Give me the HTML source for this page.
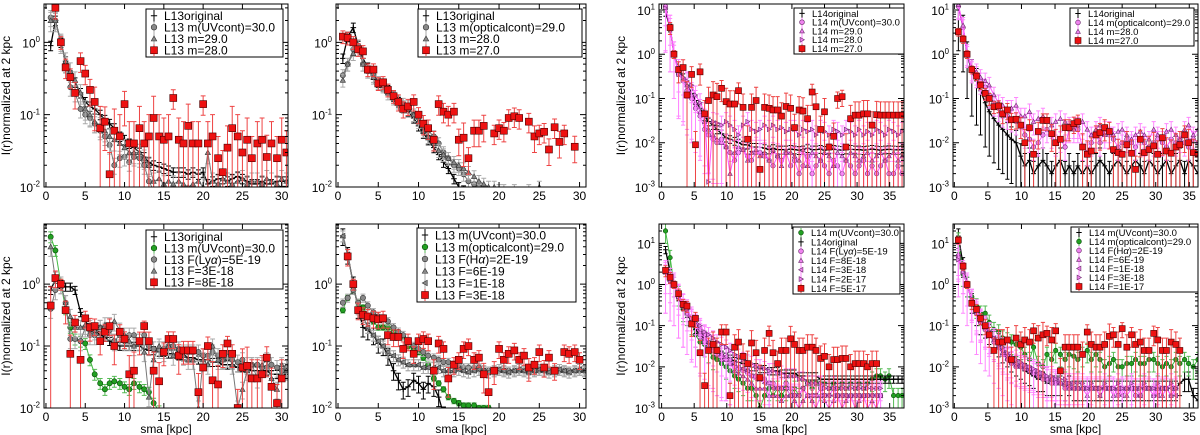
<!DOCTYPE html>
<html><head><meta charset="utf-8"><style>
html,body{margin:0;padding:0;background:#fff;}
svg{display:block;font-family:"Liberation Sans","DejaVu Sans",sans-serif;}
</style></head><body>
<svg id="fig" width="1200" height="435" viewBox="0 0 1200 435" xmlns="http://www.w3.org/2000/svg"></svg>
<script>
// ---- shared radial grids (kpc) ----
const gL = [0.6,1.2,1.9,2.5,3.1,3.7,4.4,5.0,5.6,6.2,6.9,7.5,8.1,8.7,9.4,10.0,10.6,11.2,11.9,12.5,13.1,13.7,14.4,15.0,15.6,16.2,16.9,17.5,18.1,18.7,19.4,20.0,20.6,21.2,21.9,22.5,23.1,23.7,24.4,25.0,25.6,26.2,26.9,27.5,28.1,28.7,29.4,30.0,30.6];
const gR = [0.6,1.3,1.9,2.6,3.3,3.9,4.6,5.2,5.9,6.6,7.2,7.9,8.5,9.2,9.9,10.5,11.2,11.8,12.5,13.2,13.8,14.5,15.1,15.8,16.5,17.1,17.8,18.4,19.1,19.8,20.4,21.1,21.7,22.4,23.1,23.7,24.4,25.0,25.7,26.4,27.0,27.7,28.3,29.0,29.7,30.3,31.0,31.6,32.3,33.0,33.6,34.3,34.9,35.6,36.3,36.9];
const xTicksL = [0,5,10,15,20,25,30];
const xTicksR = [0,5,10,15,20,25,30,35];
const yDecL = [-2,-1,0];
const yDecR = [-3,-2,-1,0,1];

// ---- panel 1 (L13, UV) ----
const p1Orig = [0.9,2.0,1.0,0.55,0.35,0.28,0.2,0.15,0.13,0.12,0.1,0.085,0.075,0.065,0.05,0.045,0.04,0.035,0.03,0.026,0.022,0.02,0.019,0.018,0.017,0.016,0.016,0.016,0.015,0.016,0.015,0.016,0.011,0.012,0.013,0.013,0.012,0.013,0.014,0.013,0.012,0.011,0.011,0.012,0.011,0.011,0.012,0.012,0.012];
const p1Circ = [2.2,2.0,1.0,0.5,0.24,0.2,0.12,0.1,0.09,0.075,0.06,0.05,0.038,0.02,0.025,0.026,0.022,0.026,0.025,0.02,0.012,0.009,0.008,0.009,0.008,0.008,null];
const p1Tri = [2.0,2.0,1.0,0.55,0.4,0.3,0.2,0.12,0.1,0.08,0.07,0.06,0.05,0.045,0.04,0.035,0.03,0.03,0.03,0.025,0.02,0.012,0.013,0.011,0.012,0.011,0.012,0.011,0.010,0.011,0.012,0.01,0.03,0.012,0.011,0.013,0.012,0.011,0.012,0.013,0.011,0.012,0.012,0.011,0.013,0.012,0.011,0.013,0.012];
const p1Red = [null,3.0,1.0,0.45,0.33,0.2,0.55,0.37,0.22,0.15,0.065,0.08,0.015,0.06,0.05,0.14,0.04,0.04,0.065,0.04,0.05,0.09,0.05,0.045,0.05,0.17,0.045,0.04,0.07,0.04,0.04,0.14,0.04,0.05,0.025,0.016,0.035,0.065,0.05,0.03,0.045,0.025,0.04,0.045,0.026,0.04,0.025,0.045,0.03];
const p1RedErr = [0,0.3,0.2,0.3,0.3,0.4,0.3,0.3,0.4,0.6,1,0.6,1,1,1,0.5,1,1,1,1,1,1,1,1,1,0.3,1,1,1,1,1,0.3,1,1,1,1,1,1,1,1,1,1,1,1,1,1,1,1,1];

// ---- panel 2 (L13, optical) ----
const p2Orig = [0.6,1.2,1.6,0.9,0.6,0.45,0.36,0.28,0.25,0.22,0.18,0.15,0.13,0.11,0.09,0.07,0.055,0.045,0.035,0.028,0.022,0.018,0.013,0.010,0.009,null];
const p2Circ = [0.35,0.5,0.8,0.9,0.5,0.4,0.35,0.28,0.26,0.22,0.18,0.15,0.14,0.13,0.1,0.09,0.07,0.06,0.05,0.04,0.03,0.025,0.02,0.018,0.015,0.012,0.011,0.01,0.009,null];
const p2Tri = [0.3,0.5,0.7,0.8,0.5,0.4,0.33,0.28,0.25,0.2,0.17,0.15,0.13,0.12,0.1,0.08,0.06,0.05,0.04,0.032,0.028,0.025,0.022,0.02,0.018,0.016,0.014,0.012,0.011,0.01,0.01,0.009,0.009,0.008,0.009,0.008,0.008,0.009,0.008,0.01,0.008];
const p2Red = [1.2,1.15,1.0,0.8,0.75,0.42,0.42,0.27,0.28,0.22,0.18,0.15,0.12,0.13,0.15,0.1,0.075,0.065,0.045,0.14,0.11,0.1,0.11,0.045,0.048,0.025,0.06,0.06,0.07,null,0.055,0.065,0.06,0.09,0.095,0.09,null,0.08,0.05,0.055,0.058,0.033,0.067,0.042,0.055,null,0.036,null,null];
const p2RedErr = [0.2,0.2,0.2,0.2,0.2,0.2,0.2,0.2,0.2,0.2,0.2,0.25,0.25,0.25,0.25,0.25,0.3,0.3,0.3,0.3,0.3,0.3,0.3,0.4,0.6,0.4,0.4,0.4,0.4,0,0.3,0.3,0.3,0.3,0.3,0.3,0,0.3,0.4,0.3,0.3,0.4,0.3,0.4,0.3,0,0.4,0,0];

// ---- panel 3 (L14, UV) ----
const p3Orig = [9,4,1.0,0.45,0.3,0.2,0.13,0.09,0.06,0.04,0.03,0.025,0.02,0.016,0.013,0.012,0.011,0.01,0.009,0.009,0.008,0.008,0.008,0.0075,0.007,0.0075,0.007,0.007,0.007,0.0072,0.007,0.0068,0.007,0.0075,0.007,0.007,0.0072,0.0068,0.007,0.0072,0.007,0.0068,0.007,0.0072,0.007,0.007,0.0068,0.007,0.0072,0.007,0.0068,0.007,0.0071,0.007,0.0069,0.007];
const p3Circ = [12,4,1.0,0.35,0.25,0.15,0.1,0.06,0.04,0.02,0.015,0.012,0.01,0.012,0.008,0.006,0.004,0.006,0.007,0.005,0.004,0.006,0.006,0.005,0.004,0.003,0.005,0.004,0.006,0.003,0.004,0.002,0.003,0.005,0.002,0.003,0.004,0.003,0.002,0.004,0.003,0.002,0.004,0.003,0.002,0.003,0.004,0.002,0.003,0.002,0.003,0.004,0.002,0.002,0.003,0.002];
const p3TriUp = [11,4,1.0,0.4,0.3,0.2,0.12,0.08,0.05,0.03,0.02,0.015,0.012,0.01,0.008,0.002,0.006,0.008,0.007,0.004,0.006,0.007,0.005,0.006,0.004,0.007,0.005,0.003,0.006,0.006,0.005,0.004,0.007,0.003,0.006,0.005,0.004,0.006,0.005,0.003,0.006,0.005,0.004,0.006,0.005,0.004,0.005,0.006,0.004,0.005,0.006,0.004,0.005,0.006,0.004,0.005];
const p3TriR = [11,4,1.0,0.35,0.3,0.25,0.2,0.12,0.08,0.05,0.0013,0.03,0.028,0.025,0.03,0.025,0.02,0.015,0.025,0.03,0.02,0.018,0.02,0.025,0.02,0.025,0.02,0.022,0.018,0.02,0.02,0.015,0.02,0.018,0.02,0.015,0.02,0.018,0.015,0.02,0.018,0.015,0.02,0.018,0.015,0.02,0.015,0.018,0.015,0.02,0.018,0.015,0.02,0.018,0.015,0.018];
const p3Red = [null,4,1.0,0.45,0.5,0.12,0.35,0.009,0.4,0.045,0.09,0.12,0.11,0.17,0.085,0.075,0.075,0.15,0.063,0.012,0.063,0.09,0.0025,0.063,0.06,0.055,0.055,0.04,0.066,0.06,0.022,0.055,0.052,0.035,0.14,0.065,0.02,0.05,0.008,0.014,0.1,0.11,0.008,0.035,0.042,0.042,0.045,0.045,0.025,0.043,0.042,0.042,0.042,0.042,0.042,0.042];
const p3RedErr = [0,0.3,0.2,0.5,0.5,1,0.5,1,0.5,1,1,1,1,0.5,1,1,1,0.5,1,1,1,1,1,1,1,1,1,1,1,1,1,1,1,1,0.5,1,1,1,1,1,0.4,0.4,1,1,1,1,1,1,1,1,1,1,1,1,1,1];

// ---- panel 4 (L14, optical) ----
const p4Orig = [12,4,1.0,0.4,0.25,0.15,0.08,0.05,0.035,0.025,0.02,0.015,0.012,0.01,0.005,0.003,0.004,0.002,0.003,0.004,0.003,0.002,0.003,0.004,0.002,0.003,0.002,0.003,0.002,0.003,0.002,0.003,0.004,0.003,0.002,0.003,0.004,0.003,0.002,0.003,0.004,0.003,0.002,0.004,0.003,0.002,0.003,0.004,0.002,0.003,0.004,0.002,0.004,0.003,0.002,0.003];
const p4Circ = [12,4,1.0,0.45,0.35,0.25,0.18,0.12,0.08,0.06,0.045,0.04,0.035,0.03,0.025,0.015,0.012,0.008,0.01,0.015,0.02,0.015,0.01,0.012,0.008,0.02,0.025,0.02,0.008,0.006,0.01,0.015,0.01,0.02,0.015,0.012,0.008,0.01,0.012,0.01,0.008,0.012,0.01,0.008,0.01,0.012,0.01,0.008,0.012,0.01,0.012,0.01,0.008,0.012,0.01,0.008];
const p4TriUp = [13,4.5,1.1,0.5,0.4,0.3,0.25,0.2,0.12,0.08,0.07,0.06,0.06,0.07,0.04,0.04,0.05,0.03,0.035,0.04,0.03,0.025,0.03,0.035,0.03,0.025,0.02,0.025,0.03,0.02,0.015,0.02,0.025,0.015,0.02,0.015,0.018,0.02,0.015,0.012,0.015,0.018,0.015,0.012,0.02,0.015,0.012,0.018,0.02,0.015,0.012,0.02,0.025,0.015,0.02,0.015];
const p4Red = [3.2,2.2,1.0,0.45,0.32,0.2,0.13,0.1,0.065,0.068,0.045,0.055,0.033,0.034,0.025,0.01,0.022,0.0055,0.018,0.032,0.032,0.016,0.01,0.012,0.022,0.022,0.027,0.03,0.008,0.0055,0.0065,0.015,0.017,0.022,0.018,0.007,0.006,0.0055,0.009,0.0058,0.0025,0.012,0.006,0.007,0.0085,0.0055,0.013,0.0065,0.0058,0.008,0.009,0.015,0.01,0.006,0.0055,null];
const p4RedErr = [0.2,0.2,0.2,0.2,0.2,0.2,0.3,0.3,0.3,0.3,0.4,0.4,0.4,0.4,0.5,1,0.5,1,0.6,0.4,0.4,0.6,1,1,0.5,0.5,0.4,0.4,1,1,1,0.6,0.6,0.5,0.6,1,1,1,1,1,1,0.6,1,1,1,1,0.6,1,1,1,1,0.6,1,1,1,0];

// ---- panel 5 (L13, Lya) ----
const p5Orig = [0.8,1.2,1.0,0.9,0.9,0.8,0.35,0.25,0.2,0.18,0.15,0.14,0.12,0.11,0.1,0.1,0.1,0.1,0.1,0.09,0.085,0.085,0.08,0.08,0.075,0.075,0.07,0.07,0.065,0.065,0.06,0.06,0.06,0.055,0.055,0.05,0.05,0.05,0.045,0.045,0.045,0.04,0.04,0.04,0.04,0.035,0.035,0.035,0.035];
const p5Green = [5.8,3.5,1.0,0.4,0.2,0.13,0.12,0.11,0.06,0.035,0.025,0.02,0.025,0.027,0.025,0.022,0.02,0.025,0.022,0.02,0.018,0.012,0.009,null];
const p5Circ = [0.4,0.8,1.0,0.5,0.13,0.13,0.12,0.2,0.15,0.15,0.2,0.18,0.18,0.12,0.15,0.12,0.15,0.15,0.12,0.15,0.1,0.09,0.09,0.09,0.1,0.1,0.09,0.08,0.08,0.08,0.08,0.07,0.07,0.08,0.07,0.06,0.065,0.06,0.055,0.06,0.05,0.05,0.05,0.045,0.045,0.05,0.045,0.04,0.045];
const p5Tri = [4,1.2,1.0,0.5,0.3,0.2,0.2,0.22,0.2,0.18,0.2,0.22,0.22,0.25,0.18,0.15,0.12,0.1,0.12,0.08,0.015,0.06,0.1,0.08,0.1,0.07,0.09,0.07,0.06,0.06,0.01,0.06,0.05,0.1,0.06,0.06,0.08,0.05,0.01,0.02,0.04,0.05,0.03,0.05,0.06,0.03,0.02,0.05,0.04];
const p5Red = [0.45,1.25,1.0,0.38,0.075,0.24,0.06,0.28,0.2,0.21,0.12,0.17,0.21,0.1,0.17,0.13,0.035,0.04,0.12,0.21,0.12,0.04,0.027,0.08,0.13,0.13,0.07,0.085,0.085,0.085,0.018,0.045,0.1,0.028,0.024,0.075,0.11,0.075,0.01,0.045,0.048,0.03,0.03,0.035,0.065,0.022,0.012,0.03,null];
const p5RedErr = [1,0.3,0.2,0.4,1,0.3,1,0.3,0.4,0.3,0.4,0.3,0.3,0.5,0.3,0.3,1,1,0.4,0.2,0.4,1,1,0.4,0.3,0.3,0.5,0.4,0.4,0.4,1,1,0.4,1,1,0.4,0.3,0.4,1,1,1,1,1,1,0.5,1,1,1,0];

// ---- panel 6 (L13, Halpha) ----
const p6UV = [6,3,1.0,0.4,0.2,0.18,0.15,0.11,0.1,0.07,0.04,0.028,0.02,0.022,0.028,0.025,0.02,0.025,0.022,0.015,0.008,null];
const p6Green = [0.38,0.6,0.8,0.5,0.42,0.3,0.25,0.2,0.2,0.2,0.17,0.15,0.14,0.1,0.09,0.08,0.065,0.05,0.03,0.025,0.02,0.015,0.013,0.012,0.011,0.011,0.011,0.01,0.01,0.01,0.009,null];
const p6Circ = [0.5,0.6,0.8,0.5,0.6,0.45,0.35,0.3,0.28,0.25,0.2,0.17,0.15,0.12,0.1,0.09,0.08,0.07,0.065,0.06,0.055,0.055,0.05,0.05,0.045,0.045,0.045,0.045,0.04,0.04,0.04,0.04,0.04,0.04,0.04,0.04,0.04,0.04,0.04,0.04,0.04,0.04,0.04,0.04,0.04,0.04,0.04,0.04,0.04];
const p6TriL = [6,3,1.0,0.4,0.3,0.2,0.15,0.12,0.1,0.08,0.07,0.06,0.055,0.05,0.05,0.05,0.045,0.045,0.045,0.045,0.04,0.04,0.04,0.042,0.04,0.038,0.04,0.042,0.04,0.038,0.04,0.042,0.04,0.038,0.04,0.042,0.04,0.038,0.04,0.042,0.04,0.038,0.04,0.042,0.04,0.038,0.04,0.042,0.04];
const p6Red = [null,2.8,1.0,0.38,0.32,0.3,0.28,0.27,0.28,0.15,0.14,0.14,0.09,0.12,0.075,0.12,0.13,0.12,0.04,0.11,0.09,0.03,0.05,0.06,0.09,0.1,0.06,0.065,0.035,0.018,0.04,0.09,0.06,0.075,0.085,0.06,0.07,0.045,0.05,0.08,0.045,0.065,0.04,null,0.08,0.075,0.08,0.06,null];
const p6RedErr = [0,0.3,0.2,0.3,0.3,0.3,0.3,0.3,0.3,0.3,0.3,0.3,0.3,0.3,0.3,0.3,0.3,0.3,0.5,0.3,0.3,0.5,0.3,0.3,0.3,0.3,0.3,0.3,0.5,1,0.4,0.3,0.3,0.3,0.3,0.3,0.3,0.4,0.3,0.3,0.3,0.3,0.3,0,0.3,0.3,0.3,0.3,0];

// ---- panel 7 (L14, Lya) ----
const p7Green = [20,4.5,1.0,0.6,0.25,0.2,0.12,0.06,0.04,0.035,0.025,0.017,0.015,0.012,0.01,0.008,0.006,0.005,0.004,0.003,0.003,0.002,0.001,0.002,0.003,0.002,0.003,0.002,0.003,0.002,0.003,0.002,0.003,0.004,0.003,0.004,0.003,0.004,0.003,0.004,0.003,0.004,0.003,0.004,0.003,0.004,0.003,0.004,0.005,0.006,0.006,0.005,0.006,0.002,0.002,0.002];
const p7Orig = [7,2,1.0,0.5,0.3,0.2,0.12,0.08,0.06,0.045,0.035,0.03,0.025,0.02,0.018,0.016,0.014,0.013,0.012,0.011,0.01,0.01,0.009,0.009,0.008,0.008,0.008,0.007,0.007,0.007,0.007,0.006,0.006,0.006,0.006,0.006,0.005,0.005,0.005,0.005,0.005,0.005,0.005,0.005,0.005,0.005,0.005,0.005,0.005,0.005,0.005,0.005,0.005,0.005,0.005,0.005];
const p7Circ = [2,1.3,1.0,0.5,0.3,0.2,0.13,0.1,0.06,0.04,0.03,0.025,0.02,0.018,0.015,0.012,0.01,0.009,0.008,0.007,0.006,0.006,0.005,0.005,0.004,0.004,0.003,0.003,0.004,0.003,0.002,0.002,0.003,0.002,0.002,0.002,0.003,0.002,0.002,0.003,0.002,0.002,0.002,0.002,0.002,0.002,0.002,0.002,0.002,0.002,0.002,null];
const p7TriUp = [2,1.3,1.0,0.5,0.3,0.2,0.15,0.1,0.07,0.05,0.035,0.03,0.02,0.015,0.015,0.012,0.008,0.007,0.006,0.005,0.004,0.003,0.003,0.003,0.002,0.002,0.002,0.0015,0.002,0.002,0.0015,0.001,0.0015,0.002,0.0015,0.001,0.002,0.0015,0.001,0.0015,0.002,0.001,0.0015,0.002,0.001,0.0015,0.002,0.001,0.0015,0.001,0.002,null];
const p7TriL = [2,1.2,1.0,0.6,0.35,0.25,0.15,0.1,0.08,0.06,0.04,0.035,0.025,0.02,0.018,0.015,0.012,0.01,0.009,0.008,0.006,0.005,0.005,0.004,0.004,0.003,0.003,0.003,0.003,0.002,0.002,0.002,0.003,0.002,0.002,0.002,0.002,0.002,0.002,0.002,0.002,0.002,0.002,0.002,0.002,0.002,0.002,0.002,0.002,0.002,0.002,null];
const p7TriR = [2,1.2,1.0,0.5,0.3,0.25,0.15,0.12,0.1,0.07,0.06,0.05,0.04,0.035,0.03,0.025,0.02,0.018,0.015,0.013,0.012,0.01,0.01,0.009,0.008,0.008,0.007,0.007,0.006,0.006,0.006,0.005,0.005,0.004,0.004,0.004,0.004,0.003,0.003,0.003,0.003,0.003,0.003,0.003,0.003,0.003,0.003,0.003,0.003,0.003,0.003,null];
const p7Red = [2.2,1.5,1.0,0.6,0.33,0.3,0.11,0.15,0.022,0.0035,0.025,0.035,0.025,0.07,0.07,0.002,0.03,0.04,0.018,0.012,0.038,0.022,0.0055,0.025,0.065,0.022,0.012,0.025,0.025,0.048,0.035,0.025,0.025,0.03,0.03,0.025,0.016,0.018,0.01,0.015,0.015,0.016,0.016,0.01,0.012,0.012,0.012,0.01,0.012,0.012,null];
const p7RedErr = [0.3,0.3,0.2,0.3,0.3,0.3,0.5,0.4,1,1,1,1,1,0.5,0.5,1,1,1,1,1,1,1,1,1,0.5,1,1,1,1,1,1,1,1,1,1,1,1,1,1,1,1,1,1,1,1,1,1,1,1,1,0];

// ---- panel 8 (L14, Halpha) ----
const p8UV = [15,3,1.0,0.4,0.2,0.12,0.1,0.07,0.05,0.035,0.025,0.02,0.015,0.012,0.01,0.008,0.007,0.006,0.005,0.005,0.004,0.004,0.004,0.004,0.003,0.004,0.003,0.003,0.003,0.003,0.003,0.003,0.003,0.003,0.003,0.003,0.003,0.003,0.003,0.003,0.003,0.003,0.003,0.003,0.003,0.003,0.003,0.003,0.003,0.003,0.004,0.005,0.005,0.002,0.0015,0.003];
const p8Green = [12,1.8,1.0,0.5,0.3,0.2,0.2,0.12,0.08,0.07,0.05,0.045,0.04,0.035,0.03,0.02,0.015,0.03,0.012,0.01,0.02,0.015,0.025,0.02,0.015,0.02,0.018,0.015,0.02,0.025,0.015,0.02,0.015,0.01,0.012,0.015,0.01,0.01,0.012,0.012,0.015,0.012,0.012,0.015,0.015,0.012,0.01,0.012,0.01,0.015,0.012,0.015,0.012,0.01,0.015,0.012];
const p8Circ = [5,2,1.0,0.4,0.2,0.12,0.08,0.06,0.04,0.03,0.02,0.015,0.012,0.01,0.01,0.009,0.008,0.007,0.006,0.005,0.005,0.004,0.004,0.004,0.003,0.003,0.003,0.003,0.003,0.003,0.003,0.003,0.003,0.003,0.003,0.003,0.002,0.003,0.003,0.003,0.002,0.002,0.003,0.003,0.002,0.003,0.003,0.003,0.002,0.003,null];
const p8TriUp = [5.5,2,1.0,0.45,0.22,0.13,0.09,0.06,0.045,0.03,0.022,0.016,0.013,0.011,0.01,0.009,0.008,0.007,0.006,0.006,0.005,0.005,0.004,0.004,0.004,0.003,0.003,0.003,0.003,0.002,0.003,0.003,0.002,0.003,0.003,0.002,0.003,0.003,0.002,0.003,0.003,0.002,0.003,0.003,0.002,0.003,0.002,0.003,0.002,0.003,null];
const p8TriL = [4.5,2,1.0,0.4,0.2,0.14,0.1,0.07,0.05,0.035,0.025,0.018,0.014,0.012,0.011,0.01,0.009,0.008,0.007,0.006,0.005,0.005,0.005,0.004,0.004,0.004,0.003,0.003,0.003,0.003,0.003,0.003,0.002,0.003,0.003,0.003,0.003,0.002,0.003,0.003,0.003,0.002,0.003,0.003,0.003,0.002,0.003,0.003,0.003,0.002,null];
const p8TriR = [4,2,1.0,0.45,0.25,0.15,0.1,0.07,0.05,0.04,0.03,0.022,0.018,0.015,0.013,0.011,0.01,0.009,0.008,0.007,0.006,0.006,0.005,0.005,0.005,0.004,0.004,0.004,0.004,0.003,0.004,0.003,0.003,0.004,0.003,0.003,0.004,0.003,0.003,0.004,0.003,0.003,0.004,0.003,0.003,0.004,0.003,0.003,0.004,0.003,null];
const p8Red = [12,2.8,1.0,0.35,0.25,0.15,0.1,0.06,0.025,0.04,0.04,0.045,0.015,0.05,0.035,0.045,0.04,0.075,0.05,0.06,0.065,0.045,0.075,0.008,0.03,0.03,0.03,0.03,0.02,0.07,0.035,0.03,0.03,0.035,0.055,0.06,0.035,0.085,0.03,0.06,0.035,0.04,0.025,0.025,0.065,0.045,0.025,0.025,0.04,0.035,0.025,null];
const p8RedErr = [0.2,0.2,0.2,0.3,0.3,0.3,0.4,0.5,1,1,1,1,1,1,1,1,1,0.5,1,1,0.5,1,0.5,1,1,1,1,1,1,0.5,1,1,1,1,1,0.5,1,0.4,1,0.5,1,1,1,1,0.5,1,1,1,1,1,1,0];

// ---------------- drawing ----------------
const NS = 'http://www.w3.org/2000/svg';
const fig = document.getElementById('fig');
function mk(tag, attrs, parent){ const e=document.createElementNS(NS,tag); for(const k in attrs) e.setAttribute(k,attrs[k]); (parent||fig).appendChild(e); return e; }

const STY = {
  orig:  {fill:'none', edge:'#000', line:'#000', err:'#000', lw:1.3},
  gray:  {fill:'#888', edge:'#333', line:'#777', err:'#aaa', lw:1},
  green: {fill:'#22a022', edge:'#0a4a0a', line:'#44bb44', err:'#55bb55', lw:1},
  pink:  {fill:'#ee82ee', edge:'#6a2a6a', line:'#ff55ff', err:'#ff88ff', lw:1},
  red:   {fill:'#ee1111', edge:'#4a0000', line:null, err:'#ee4444', lw:1}
};

function marker(g, m, cx, cy, s, st){
  let e;
  if(m==='+'){
    e = mk('path',{d:`M${cx-s} ${cy}H${cx+s}M${cx} ${cy-s}V${cy+s}`,stroke:st.edge,'stroke-width':1},g);
  } else if(m==='o'){
    e = mk('circle',{cx:cx,cy:cy,r:s,fill:st.fill,stroke:st.edge,'stroke-width':0.6},g);
  } else if(m==='s'){
    e = mk('rect',{x:cx-s,y:cy-s,width:2*s,height:2*s,fill:st.fill,stroke:st.edge,'stroke-width':0.6},g);
  } else {
    let p;
    if(m==='^') p=[[cx,cy-s],[cx+s,cy+s*0.8],[cx-s,cy+s*0.8]];
    if(m==='<') p=[[cx-s,cy],[cx+s*0.8,cy-s],[cx+s*0.8,cy+s]];
    if(m==='>') p=[[cx+s,cy],[cx-s*0.8,cy-s],[cx-s*0.8,cy+s]];
    e = mk('polygon',{points:p.map(q=>q.join(',')).join(' '),fill:st.fill,stroke:st.edge,'stroke-width':0.6},g);
  }
  return e;
}

function supText(g, x, y, base, exp, size, anchor){
  const t = mk('text',{x:x,y:y,'font-size':size,'text-anchor':anchor,fill:'#000'},g);
  t.appendChild(document.createTextNode(base));
  const s = mk('tspan',{dy:-size*0.45,'font-size':size*0.65},t);
  s.textContent = exp;
  return t;
}

function panel(P){
  const g = mk('g',{});
  
  
  const W=P.x1-P.x0, H=P.y1-P.y0;
  const sx = v => P.x0 + (v-P.xmin)/(P.xmax-P.xmin)*W;
  const sy = v => P.y1 - (Math.log10(v)-P.lmin)/(P.lmax-P.lmin)*H;
  const cid = 'clip-'+P.name;
  const cp = mk('clipPath',{id:cid},g); mk('rect',{x:P.x0,y:P.y0,width:W,height:H},cp);
  const plot = mk('g',{'clip-path':`url(#${cid})`},g);
  
  
  const ms = P.ms;
  P.series.forEach((S,si)=>{
    const st = STY[S.kind];
    const sg = mk('g',{},plot);
    
    
    // errors
    const eg = mk('g',{stroke:st.err,'stroke-width':1,fill:'none'},sg);
    S.y.forEach((v,i)=>{
      if(v==null || i>=S.x.length) return;
      const re = Array.isArray(S.e) ? (S.e[i]||0) : S.e;
      if(re<=0) return;
      const cx = sx(S.x[i]);
      const lo = v*(1-re) > 0 ? sy(v*(1-re)) : P.y1+5;
      const hi = sy(v*(1+re));
      const cap = ms*0.7;
      const d = `M${cx} ${lo}V${hi}M${cx-cap} ${hi}H${cx+cap}` + (v*(1-re)>0?`M${cx-cap} ${lo}H${cx+cap}`:'');
      mk('path',{d:d},eg);
    });
    // line
    if(st.line){
      let d='', pen=false;
      S.y.forEach((v,i)=>{
        if(v==null || i>=S.x.length){pen=false;return;}
        d += (pen?'L':'M')+sx(S.x[i]).toFixed(1)+' '+sy(v).toFixed(1); pen=true;
      });
      mk('path',{d:d,fill:'none',stroke:st.line,'stroke-width':st.lw},sg);
    }
    // markers
    const mg = mk('g',{},sg);
    S.y.forEach((v,i)=>{
      if(v==null || i>=S.x.length) return;
      const m = marker(mg, S.m, sx(S.x[i]), sy(v), S.m==='s'?ms:(S.m==='+'?ms*0.8:ms*0.75), st);
      
      
    });
  });
  // frame
  const fr = mk('rect',{x:P.x0,y:P.y0,width:W,height:H,fill:'none',stroke:'#000','stroke-width':1},g);
  
  
  // x ticks
  const xa = mk('g',{},g);
  
  
  P.xt.forEach(t=>{
    const x=sx(t);
    mk('path',{d:`M${x} ${P.y1}v-5M${x} ${P.y0}v5`,stroke:'#000','stroke-width':1},xa);
    const lab = mk('text',{x:x,y:P.y1+13,'font-size':12,'text-anchor':'middle',fill:'#000'},xa);
    lab.textContent = t;
    
    
  });
  // y ticks
  const ya = mk('g',{},g);
  
  
  for(let d=P.lmin; d<=Math.ceil(P.lmax); d++){
    for(let k=1;k<10;k++){
      const v = k*Math.pow(10,d); const lv=Math.log10(v);
      if(lv<P.lmin-1e-9 || lv>P.lmax) continue;
      const y = sy(v), L = k===1?6:3;
      mk('path',{d:`M${P.x0} ${y}h${L}M${P.x1} ${y}h${-L}`,stroke:'#000','stroke-width':1},ya);
    }
  }
  P.yt.forEach(d=>{
    const y = sy(Math.pow(10,d));
    const lab = supText(ya, P.x0-4, y+5, '10', String(d).replace('-','\u2212').replace('\u2212','-'), 12, 'end');
    
    
  });
  if(P.ylabel){
    const cy=(P.y0+P.y1)/2, lx=P.x0-34;
    const t = mk('text',{x:lx,y:cy,'font-size':12,'text-anchor':'middle',transform:`rotate(-90 ${lx} ${cy})`,fill:'#000'},g);
    t.textContent='I(r)normalized at 2 kpc';
    
    
  }
  if(P.xlabel){
    const t = mk('text',{x:(P.x0+P.x1)/2,y:P.y1+25,'font-size':12,'text-anchor':'middle',fill:'#000'},g);
    t.textContent='sma [kpc]';
    
    
  }
  // legend
  const L = P.leg;
  const lg = mk('g',{},g);
  
  
  mk('rect',{x:L.x0,y:L.y0,width:L.x1-L.x0,height:L.y1-L.y0,fill:'#fff',stroke:'#000','stroke-width':1},lg);
  const n = P.series.length, rh=(L.y1-L.y0-2)/n;
  P.series.forEach((S,i)=>{
    const st = STY[S.kind];
    const eg = mk('g',{},lg);
    
    
    const cy = L.y0+1+rh*(i+0.5), cx = L.x0+8;
    mk('path',{d:`M${cx} ${cy-rh*0.5}V${cy+rh*0.5}`,stroke:st.err,'stroke-width':1},eg);
    marker(eg, S.m, cx, cy, S.m==='s'?L.ms:(S.m==='+'?L.ms*0.9:L.ms*0.8), st);
    const t = mk('text',{x:L.x0+18,y:cy+L.fs*0.36,'font-size':L.fs,fill:'#000'},eg);
    S.label.forEach(part=>{
      const sp = mk('tspan',part[1]?{'font-style':'italic'}:{},t);
      sp.textContent = part[0];
    });
  });
}

const rowTop=[4,187], rowBot=[224,408];
const Lx=[[44,288],[336,586]], Rx=[[659,904],[953,1198]];
function lab(s){ return [[s,false]]; }

panel({name:'panel-l13-uv', x0:Lx[0][0],x1:Lx[0][1],y0:rowTop[0],y1:rowTop[1],xmin:-0.25,xmax:30.8,lmin:-2,lmax:0.53,xt:xTicksL,yt:yDecL,ylabel:true,xlabel:false,ms:3.5,
  leg:{x0:146,x1:283,y0:9,y1:57,fs:12,ms:3.5},
  series:[
    {id:'l13-original',kind:'orig',m:'+',x:gL,y:p1Orig,e:0.15,label:lab('L13original')},
    {id:'l13-uvcont-30',kind:'gray',m:'o',x:gL,y:p1Circ,e:0.25,label:lab('L13 m(UVcont)=30.0')},
    {id:'l13-m29',kind:'gray',m:'^',x:gL,y:p1Tri,e:0.3,label:lab('L13 m=29.0')},
    {id:'l13-m28',kind:'red',m:'s',x:gL,y:p1Red,e:p1RedErr,label:lab('L13 m=28.0')}]});

panel({name:'panel-l13-optical', x0:Lx[1][0],x1:Lx[1][1],y0:rowTop[0],y1:rowTop[1],xmin:-0.25,xmax:30.8,lmin:-2,lmax:0.53,xt:xTicksL,yt:yDecL,ylabel:false,xlabel:false,ms:3.5,
  leg:{x0:418,x1:582,y0:9,y1:57,fs:12,ms:3.5},
  series:[
    {id:'l13-original-2',kind:'orig',m:'+',x:gL,y:p2Orig,e:0.15,label:lab('L13original')},
    {id:'l13-opticalcont-29',kind:'gray',m:'o',x:gL,y:p2Circ,e:0.2,label:lab('L13 m(opticalcont)=29.0')},
    {id:'l13-m28-b',kind:'gray',m:'^',x:gL,y:p2Tri,e:0.2,label:lab('L13 m=28.0')},
    {id:'l13-m27',kind:'red',m:'s',x:gL,y:p2Red,e:p2RedErr,label:lab('L13 m=27.0')}]});

panel({name:'panel-l14-uv', x0:Rx[0][0],x1:Rx[0][1],y0:rowTop[0],y1:rowTop[1],xmin:-0.4,xmax:37.2,lmin:-3,lmax:1.135,xt:xTicksR,yt:yDecR,ylabel:true,xlabel:false,ms:3,
  leg:{x0:794,x1:904,y0:8,y1:54,fs:9.5,ms:3},
  series:[
    {id:'l14-original',kind:'orig',m:'+',x:gR,y:p3Orig,e:0.2,label:lab('L14original')},
    {id:'l14-uvcont-30',kind:'pink',m:'o',x:gR,y:p3Circ,e:0.9,label:lab('L14 m(UVcont)=30.0')},
    {id:'l14-m29',kind:'pink',m:'^',x:gR,y:p3TriUp,e:0.9,label:lab('L14 m=29.0')},
    {id:'l14-m28',kind:'pink',m:'>',x:gR,y:p3TriR,e:0.6,label:lab('L14 m=28.0')},
    {id:'l14-m27',kind:'red',m:'s',x:gR,y:p3Red,e:p3RedErr,label:lab('L14 m=27.0')}]});

panel({name:'panel-l14-optical', x0:Rx[1][0],x1:Rx[1][1],y0:rowTop[0],y1:rowTop[1],xmin:-0.2,xmax:36.3,lmin:-3,lmax:1.135,xt:xTicksR,yt:yDecR,ylabel:false,xlabel:false,ms:3,
  leg:{x0:1070,x1:1194,y0:8,y1:46,fs:9.5,ms:3},
  series:[
    {id:'l14-original-2',kind:'orig',m:'+',x:gR,y:p4Orig,e:0.9,label:lab('L14original')},
    {id:'l14-opticalcont-29',kind:'pink',m:'o',x:gR,y:p4Circ,e:0.5,label:lab('L14 m(opticalcont)=29.0')},
    {id:'l14-m28-b',kind:'pink',m:'^',x:gR,y:p4TriUp,e:0.5,label:lab('L14 m=28.0')},
    {id:'l14-m27-b',kind:'red',m:'s',x:gR,y:p4Red,e:p4RedErr,label:lab('L14 m=27.0')}]});

panel({name:'panel-l13-lya', x0:Lx[0][0],x1:Lx[0][1],y0:rowBot[0],y1:rowBot[1],xmin:-0.25,xmax:30.8,lmin:-2,lmax:0.97,xt:xTicksL,yt:yDecL,ylabel:true,xlabel:true,ms:3.5,
  leg:{x0:146,x1:283,y0:230,y1:289,fs:12,ms:3.5},
  series:[
    {id:'l13-original-3',kind:'orig',m:'+',x:gL,y:p5Orig,e:0.15,label:lab('L13original')},
    {id:'l13-uvcont-30-b',kind:'green',m:'o',x:gL,y:p5Green,e:0.2,label:lab('L13 m(UVcont)=30.0')},
    {id:'l13-flya-5e-19',kind:'gray',m:'o',x:gL,y:p5Circ,e:0.3,label:[['L13 F(Ly',false],['α',true],[')=5E-19',false]]},
    {id:'l13-f-3e-18',kind:'gray',m:'^',x:gL,y:p5Tri,e:0.3,label:lab('L13 F=3E-18')},
    {id:'l13-f-8e-18',kind:'red',m:'s',x:gL,y:p5Red,e:p5RedErr,label:lab('L13 F=8E-18')}]});

panel({name:'panel-l13-halpha', x0:Lx[1][0],x1:Lx[1][1],y0:rowBot[0],y1:rowBot[1],xmin:-0.25,xmax:30.8,lmin:-2,lmax:0.97,xt:xTicksL,yt:yDecL,ylabel:false,xlabel:true,ms:3.5,
  leg:{x0:417,x1:576,y0:228,y1:302,fs:12,ms:3.5},
  series:[
    {id:'l13-uvcont-30-c',kind:'orig',m:'+',x:gL,y:p6UV,e:0.3,label:lab('L13 m(UVcont)=30.0')},
    {id:'l13-opticalcont-29-b',kind:'green',m:'o',x:gL,y:p6Green,e:0.1,label:lab('L13 m(opticalcont)=29.0')},
    {id:'l13-fha-2e-19',kind:'gray',m:'o',x:gL,y:p6Circ,e:0.15,label:[['L13 F(H',false],['α',true],[')=2E-19',false]]},
    {id:'l13-f-6e-19',kind:'gray',m:'^',x:gL,y:p6TriL,e:0.2,label:lab('L13 F=6E-19')},
    {id:'l13-f-1e-18',kind:'gray',m:'<',x:gL,y:p6TriL,e:0.2,label:lab('L13 F=1E-18')},
    {id:'l13-f-3e-18-b',kind:'red',m:'s',x:gL,y:p6Red,e:p6RedErr,label:lab('L13 F=3E-18')}]});

panel({name:'panel-l14-lya', x0:Rx[0][0],x1:Rx[0][1],y0:rowBot[0],y1:rowBot[1],xmin:-0.4,xmax:37.2,lmin:-3,lmax:1.47,xt:xTicksR,yt:yDecR,ylabel:true,xlabel:true,ms:3,
  leg:{x0:793,x1:900,y0:227,y1:294,fs:9.5,ms:3},
  series:[
    {id:'l14-uvcont-30-b',kind:'green',m:'o',x:gR,y:p7Green,e:0.5,label:lab('L14 m(UVcont)=30.0')},
    {id:'l14-original-3',kind:'orig',m:'+',x:gR,y:p7Orig,e:0.2,label:lab('L14original')},
    {id:'l14-flya-5e-19',kind:'pink',m:'o',x:gR,y:p7Circ,e:0.9,label:[['L14 F(Ly',false],['α',true],[')=5E-19',false]]},
    {id:'l14-f-8e-18',kind:'pink',m:'^',x:gR,y:p7TriUp,e:0.9,label:lab('L14 F=8E-18')},
    {id:'l14-f-3e-18',kind:'pink',m:'<',x:gR,y:p7TriL,e:0.7,label:lab('L14 F=3E-18')},
    {id:'l14-f-2e-17',kind:'pink',m:'>',x:gR,y:p7TriR,e:0.5,label:lab('L14 F=2E-17')},
    {id:'l14-f-5e-17',kind:'red',m:'s',x:gR,y:p7Red,e:p7RedErr,label:lab('L14 F=5E-17')}]});

panel({name:'panel-l14-halpha', x0:Rx[1][0],x1:Rx[1][1],y0:rowBot[0],y1:rowBot[1],xmin:-0.2,xmax:36.3,lmin:-3,lmax:1.47,xt:xTicksR,yt:yDecR,ylabel:false,xlabel:true,ms:3,
  leg:{x0:1071,x1:1198,y0:227,y1:292,fs:9.5,ms:3},
  series:[
    {id:'l14-uvcont-30-c',kind:'orig',m:'+',x:gR,y:p8UV,e:0.5,label:lab('L14 m(UVcont)=30.0')},
    {id:'l14-opticalcont-29-b',kind:'green',m:'o',x:gR,y:p8Green,e:0.5,label:lab('L14 m(opticalcont)=29.0')},
    {id:'l14-fha-2e-19',kind:'pink',m:'o',x:gR,y:p8Circ,e:0.9,label:[['L14 F(H',false],['α',true],[')=2E-19',false]]},
    {id:'l14-f-6e-19',kind:'pink',m:'^',x:gR,y:p8TriUp,e:0.7,label:lab('L14 F=6E-19')},
    {id:'l14-f-1e-18',kind:'pink',m:'<',x:gR,y:p8TriL,e:0.7,label:lab('L14 F=1E-18')},
    {id:'l14-f-3e-18-b',kind:'pink',m:'>',x:gR,y:p8TriR,e:0.7,label:lab('L14 F=3E-18')},
    {id:'l14-f-1e-17',kind:'red',m:'s',x:gR,y:p8Red,e:p8RedErr,label:lab('L14 F=1E-17')}]});
</script>
</body></html>
